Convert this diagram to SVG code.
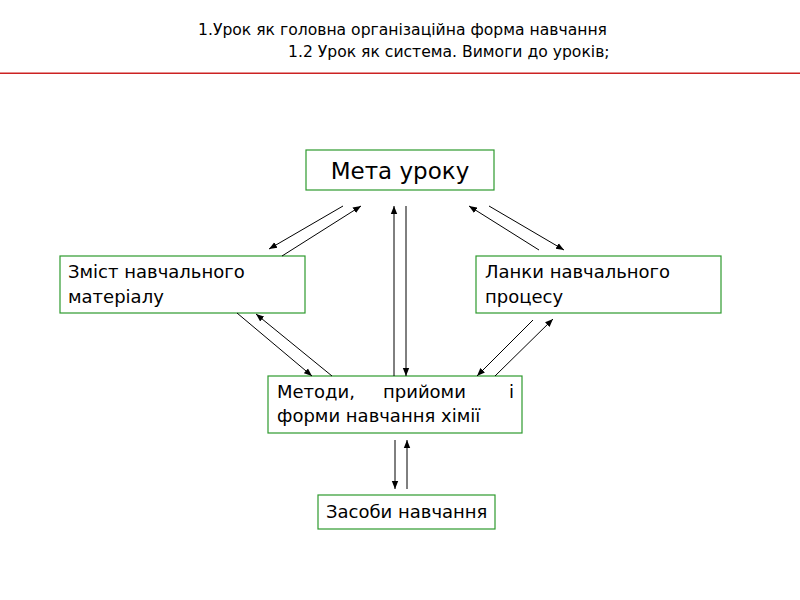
<svg xmlns="http://www.w3.org/2000/svg" width="800" height="600" viewBox="0 0 800 600">
<style>
.box{fill:#fff;stroke:#2e9a2e;stroke-width:1.2}
.t{font-family:"DejaVu Sans","Liberation Sans",sans-serif;fill:#000;font-size:18px}
.title{font-family:"DejaVu Sans","Liberation Sans",sans-serif;font-size:15.6px;fill:#000}
.c line{stroke:#000;stroke-width:1;marker-end:url(#ah)}
</style>
<defs>
<marker id="ah" viewBox="0 0 10 10" refX="10" refY="5" markerWidth="8" markerHeight="8" markerUnits="userSpaceOnUse" orient="auto">
<path d="M0,1 L10,5 L0,9 z" fill="#000"/>
</marker>
</defs>
<rect width="800" height="600" fill="#fff"/>
<g id="title">
<text class="title" x="198" y="35">1.Урок як головна організаційна форма навчання</text>
<text class="title" x="288" y="57">1.2 Урок як система. Вимоги до уроків;</text>
<rect x="0" y="72.5" width="800" height="1.5" fill="#cc2222"/>
</g>
<g id="meta">
<rect class="box" x="306" y="150" width="188" height="40"/>
<text class="t" x="400" y="179" style="font-size:23px" text-anchor="middle">Мета уроку</text>
</g>
<g id="zmist">
<rect class="box" x="60" y="256" width="245" height="57"/>
<text class="t" x="68" y="278">Зміст навчального</text>
<text class="t" x="68" y="303">матеріалу</text>
</g>
<g id="lanky">
<rect class="box" x="476" y="256" width="245" height="57"/>
<text class="t" x="485" y="278">Ланки навчального</text>
<text class="t" x="485" y="303">процесу</text>
</g>
<g id="metody">
<rect class="box" x="268" y="376" width="254" height="57"/>
<text class="t" x="277" y="398">Методи,</text>
<text class="t" x="383" y="398">прийоми</text>
<text class="t" x="514" y="398" text-anchor="end">і</text>
<text class="t" x="277" y="422">форми навчання хімії</text>
</g>
<g id="zasoby">
<rect class="box" x="318" y="495" width="177" height="34"/>
<text class="t" x="326" y="518">Засоби навчання</text>
</g>
<g class="c" id="connectors">
<line x1="343" y1="206" x2="269" y2="249"/>
<line x1="282" y1="256" x2="361" y2="206"/>
<line x1="394" y1="376" x2="394" y2="206"/>
<line x1="406" y1="206" x2="406" y2="376"/>
<line x1="539" y1="250" x2="469" y2="206"/>
<line x1="489" y1="206" x2="564" y2="250"/>
<line x1="237" y1="313" x2="312" y2="376"/>
<line x1="332" y1="376" x2="256" y2="314"/>
<line x1="533" y1="320" x2="477" y2="376"/>
<line x1="495" y1="376" x2="553" y2="319"/>
<line x1="395" y1="440" x2="395" y2="489"/>
<line x1="407" y1="489" x2="407" y2="440"/>
</g>
</svg>
